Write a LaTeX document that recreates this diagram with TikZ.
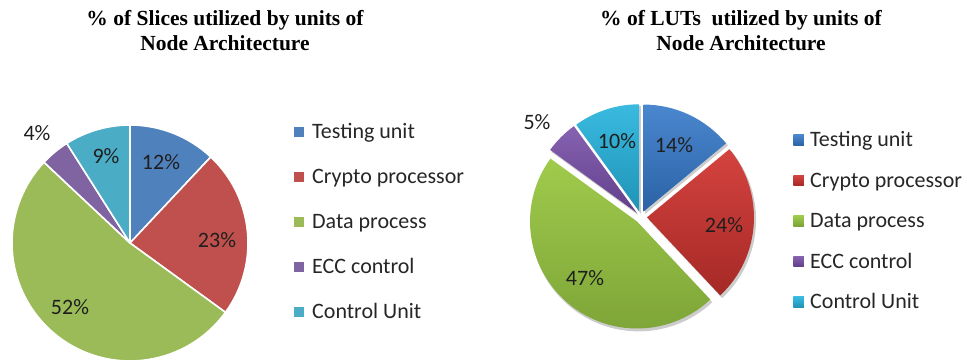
\documentclass[tikz,border=0pt]{standalone}
\usepackage{fontspec}
\setmainfont{Carlito}
\newfontfamily\titlefont{Liberation Serif}
% flat palette (left chart)
\definecolor{lblue}{HTML}{4F81BD}
\definecolor{lred}{HTML}{C0504D}
\definecolor{lgreen}{HTML}{9BBB59}
\definecolor{lpurple}{HTML}{8064A2}
\definecolor{lcyan}{HTML}{4BACC6}
% gradient palette (right chart): top / bottom
\definecolor{rblueT}{HTML}{4A87CE}\definecolor{rblueB}{HTML}{2C62A6}
\definecolor{rredT}{HTML}{D4433F}\definecolor{rredB}{HTML}{A52926}
\definecolor{rgreenT}{HTML}{9FCB4C}\definecolor{rgreenB}{HTML}{7CA337}
\definecolor{rpurpleT}{HTML}{8662B2}\definecolor{rpurpleB}{HTML}{623F8A}
\definecolor{rcyanT}{HTML}{3ABAE0}\definecolor{rcyanB}{HTML}{1F93B6}
\begin{document}
\begin{tikzpicture}[x=1pt,y=1pt,
  charttitle/.style={font={\titlefont\bfseries\fontsize{21.5}{25}\selectfont},
    align=center, anchor=north, inner sep=0pt},
  pct/.style={font={\fontsize{22}{26}\selectfont}, text=black!88, inner sep=0pt},
  legtext/.style={font={\fontsize{22}{26}\selectfont}, text=black!85,
    anchor=base west, inner sep=0pt},
  key/.style={minimum size=10.5pt, inner sep=0pt}
]
\useasboundingbox (0,0) rectangle (967,364);

% ---------------- titles ----------------
\node[charttitle] (titleL) at (225,353.5) {\% of Slices utilized by units of\\Node Architecture};
\node[charttitle] (titleR) at (741,353.5) {\% of LUTs~ utilized by units of\\Node Architecture};

% ---------------- left pie: slices ----------------
\coordinate (L) at (130,121);
\foreach \a/\b/\c in {90/46.8/lblue, 46.8/-36/lred, -36/-223.2/lgreen,
                      -223.2/-237.6/lpurple, -237.6/-270/lcyan}
  \fill[\c, draw=white, line width=1.6pt, line join=round]
    (L) -- ++(\a:118) arc[start angle=\a, end angle=\b, radius=118] -- cycle;

\node[pct] (pL1) at (161,202) {12\%};
\node[pct] (pL2) at (217,124) {23\%};
\node[pct] (pL3) at (70,57)   {52\%};
\node[pct] (pL4) at (37,231)  {4\%};
\node[pct] (pL5) at (106,208) {9\%};

% ---------------- left legend ----------------
\foreach \i/\c/\t [count=\k from 0] in {1/lblue/Testing unit, 2/lred/Crypto processor,
    3/lgreen/Data process, 4/lpurple/ECC control, 5/lcyan/Control Unit}{
  \node[key, fill=\c] (kL\i) at (299,364-132-45*\k) {};
  \node[legtext] (tL\i) at (312,364-139-45*\k) {\t};
}

% ---------------- right pie: exploded, shaded slices ----------------
\coordinate (R) at (641,147);
% soft shadows under the slices
\foreach \a/\b in {90/39.6, 39.6/-46.8, -46.8/-216, -216/-234, -234/-270}{
  \pgfmathsetmacro\m{(\a+\b)/2}
  \fill[black!20] ([shift={(\m:6)}, shift={(1.6,-2.4)}]R) -- ++(\a:107.5)
    arc[start angle=\a, end angle=\b, radius=107.5] -- cycle;
}
\foreach \a/\b/\c in {90/39.6/rblue, 39.6/-46.8/rred, -46.8/-216/rgreen,
                      -216/-234/rpurple, -234/-270/rcyan}{
  \pgfmathsetmacro\m{(\a+\b)/2}
  \shade[top color=\c T, bottom color=\c B]
    ([shift={(\m:6)}]R) -- ++(\a:107) arc[start angle=\a, end angle=\b, radius=107] -- cycle;
}

\node[pct] (pR1) at (674,219) {14\%};
\node[pct] (pR2) at (724,139) {24\%};
\node[pct] (pR3) at (585,86)  {47\%};
\node[pct] (pR4) at (537,242) {5\%};
\node[pct] (pR5) at (617,223) {10\%};

% ---------------- right legend ----------------
\foreach \i/\c/\t [count=\k from 0] in {1/rblue/Testing unit, 2/rred/Crypto processor,
    3/rgreen/Data process, 4/rpurple/ECC control, 5/rcyan/Control Unit}{
  \node[key, top color=\c T, bottom color=\c B] (kR\i) at (798.5,364-140-40.5*\k) {};
  \node[legtext] (tR\i) at (810,364-147-40.5*\k) {\t};
}
\end{tikzpicture}
\end{document}
